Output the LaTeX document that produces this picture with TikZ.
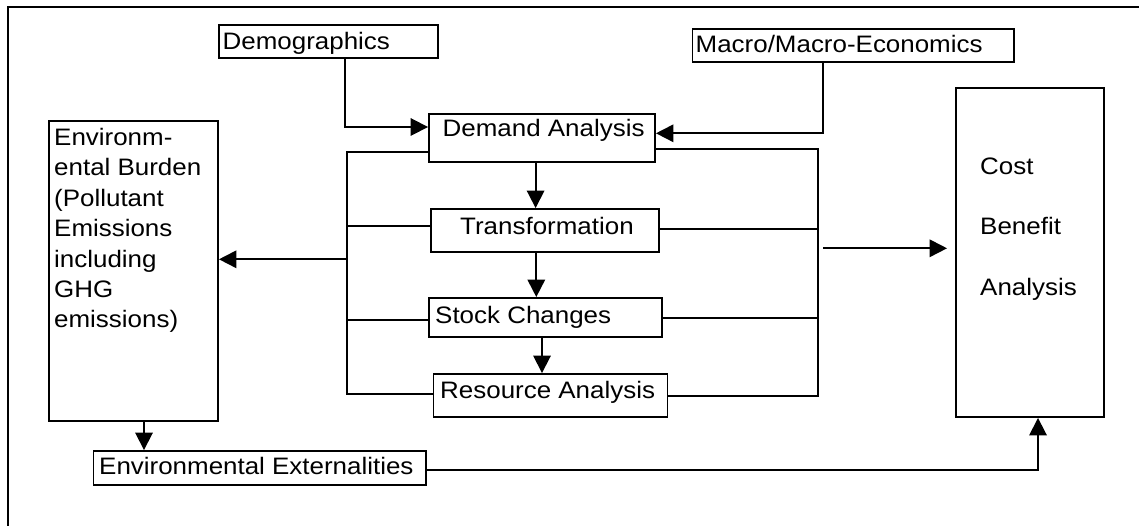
\documentclass[tikz,border=0pt]{standalone}
\usepackage{fontspec}
\setmainfont{Liberation Sans}[FakeStretch=1.09]
\usetikzlibrary{arrows.meta}
\begin{document}
\begin{tikzpicture}[x=1pt,y=-1pt,
  box/.style={draw, line width=1.9pt, rectangle, inner sep=0pt},
  txt/.style={inner sep=0pt, anchor=base west, font=\fontsize{23.8}{30.5}\selectfont},
  link/.style={line width=1.8pt},
  arr/.style={line width=1.8pt, -{Triangle[length=17.5pt,width=17.5pt]}}]
\useasboundingbox (0,0) rectangle (1139,526);

% outer frame (only its top and left edges fall inside the page)
\draw[line width=2pt] (7.5,540) -- (7.5,7.5) -- (1150,7.5);

% boxes
\node[box, minimum width=219pt,   minimum height=33pt]  (demo)   at (328.5,41.5) {};
\node[box, minimum width=321.5pt, minimum height=33pt]  (macro)  at (853.25,45.5) {};
\node[box, minimum width=226pt,   minimum height=48pt]  (demand) at (542,138) {};
\node[box, minimum width=228pt,   minimum height=43pt]  (trans)  at (545,230.5) {};
\node[box, minimum width=233pt,   minimum height=39pt]  (stock)  at (545.5,317.5) {};
\node[box, minimum width=234pt,   minimum height=43pt]  (res)    at (550.5,395.5) {};
\node[box, minimum width=169pt,   minimum height=300pt] (burden) at (133.5,271) {};
\node[box, minimum width=332.5pt, minimum height=34pt]  (ext)    at (259.75,468) {};
\node[box, minimum width=148pt,   minimum height=329pt] (cost)   at (1030,252.5) {};

% labels
\node[txt] (demo-t)   at (222.5,49.5)  {Demographics};
\node[txt] (macro-t)  at (695.5,52.5)  {Macro/Macro-Economics};
\node[txt] (demand-t) at (442.5,136.5) {Demand Analysis};
\node[txt] (trans-t)  at (460,235)     {Transformation};
\node[txt] (stock-t)  at (435,323)     {Stock Changes};
\node[txt] (res-t)    at (440,398)     {Resource Analysis};
\node[txt] (ext-t)    at (99,474.5)    {Environmental Externalities};
\foreach \line [count=\i from 0] in {{Environm-}, {ental Burden}, {(Pollutant}, {Emissions}, {including}, {GHG}, {emissions)}}
  \node[txt] (burden-t\i) at (54,145.5+30.4*\i) {\line};
\foreach \line [count=\i from 0] in {{Cost}, {Benefit}, {Analysis}}
  \node[txt] (cost-t\i) at (980,175+60*\i) {\line};

% junction points
\coordinate (dl)  at (345,127);
\coordinate (lbt) at (347,152);
\coordinate (lbb) at (347,394);
\coordinate (lt)  at (347,226);
\coordinate (ls)  at (347,319.7);
\coordinate (lb)  at (347,259.3);
\coordinate (rbt) at (818,149.3);
\coordinate (rbb) at (818,397);
\coordinate (rt)  at (818,229.3);
\coordinate (rs)  at (818,318);
\coordinate (rr)  at (818,395.7);
\coordinate (rc)  at (823,248.3);
\coordinate (mc)  at (823,133.3);
\coordinate (d1)  at (535.6,0);
\coordinate (d2)  at (536.3,0);
\coordinate (d3)  at (542,0);
\coordinate (d4)  at (144,0);
\coordinate (ec)  at (1038,469.7);

% inputs to the demand analysis
\draw[arr] (demo.south -| dl) |- (demand.west |- dl);
\draw[arr] (macro.south -| mc) -- (mc) -- (demand.east |- mc);

% main chain
\draw[arr] (demand.south -| d1) -- (trans.north -| d1);
\draw[arr] (trans.south -| d2) -- (stock.north -| d2);
\draw[arr] (stock.south -| d3) -- (res.north -| d3);

% left collector
\draw[link] (demand.west |- lbt) -- (lbt) -- (lbb) -- (res.west |- lbb);
\draw[link] (lt) -- (trans.west |- lt);
\draw[link] (ls) -- (stock.west |- ls);
\draw[arr] (lb) -- (burden.east |- lb);

% right collector
\draw[link] (demand.east |- rbt) -- (rbt) -- (rbb);
\draw[link] (trans.east |- rt) -- (rt);
\draw[link] (stock.east |- rs) -- (rs);
\draw[link] (res.east |- rr) -- (rr);
\draw[arr, shorten >=8pt] (rc) -- (cost.west |- rc);

% externalities
\draw[arr] (burden.south -| d4) -- (ext.north -| d4);
\draw[arr] (ext.east |- ec) -- (ec) -- (cost.south -| ec);
\end{tikzpicture}
\end{document}
